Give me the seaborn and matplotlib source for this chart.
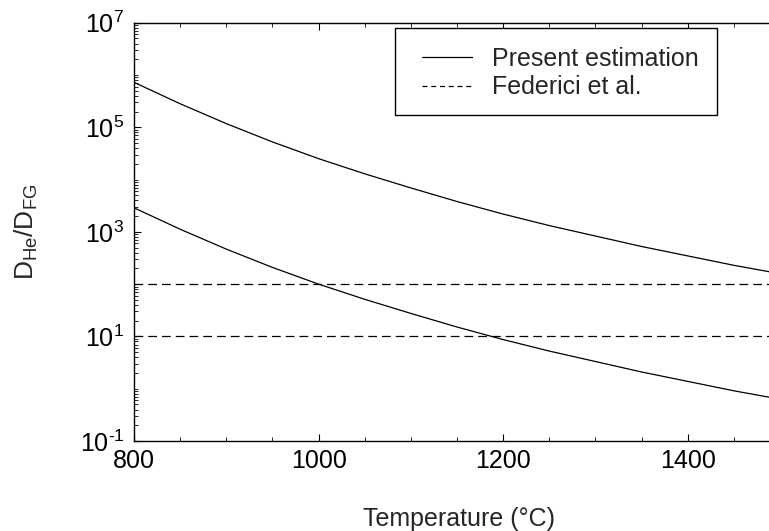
import numpy as np
import pandas as pd
import matplotlib
matplotlib.use("Agg")
import matplotlib.pyplot as plt
import seaborn as sns
from matplotlib.lines import Line2D
from matplotlib.patches import Rectangle
from matplotlib.ticker import FixedLocator, FuncFormatter, MultipleLocator, NullFormatter

# ---- data ----
temperature = [800, 850, 900, 950, 1000, 1050, 1100, 1150, 1200, 1250, 1300, 1350, 1400, 1450, 1500]
present_upper_log = [5.86, 5.45, 5.07, 4.72, 4.40, 4.11, 3.84, 3.58, 3.34, 3.12, 2.92, 2.72, 2.54, 2.36, 2.20]
present_lower_log = [3.46, 3.05, 2.67, 2.32, 2.00, 1.71, 1.44, 1.18, 0.94, 0.72, 0.52, 0.32, 0.14, -0.04, -0.20]
federici_values = [100, 10]
y_major_ticks = [1e-1, 1e1, 1e3, 1e5, 1e7]
x_major_ticks = [800, 1000, 1200, 1400]

sns.set_style("ticks")
plt.rcParams["font.family"] = ["Liberation Sans", "DejaVu Sans"]
plt.rcParams["mathtext.fontset"] = "custom"
plt.rcParams["mathtext.rm"] = "Liberation Sans"
plt.rcParams["mathtext.it"] = "Liberation Sans:italic"
plt.rcParams["mathtext.bf"] = "Liberation Sans:bold"
plt.rcParams["axes.unicode_minus"] = False

df = pd.DataFrame({
    "T": temperature * 2,
    "ratio": list(10 ** np.array(present_upper_log)) + list(10 ** np.array(present_lower_log)),
    "curve": ["upper"] * len(temperature) + ["lower"] * len(temperature),
})

fig = plt.figure(figsize=(7.69, 5.31), dpi=100)
ax = fig.add_axes([134 / 769, 90 / 531, 646 / 769, 418.3 / 531])

sns.lineplot(data=df, x="T", y="ratio", units="curve", estimator=None,
             color="black", linewidth=0.9, ax=ax, legend=False)
for v in federici_values:
    ax.axhline(v, color="black", linewidth=0.9, linestyle=(0, (7, 4)))

ax.set_yscale("log")
ax.set_xlim(800, 1500)
ax.set_ylim(1e-1, 1e7)


def pow_fmt(val, pos):
    e = int(round(np.log10(val)))
    s = str(abs(e))
    if e < 0:
        s = r"\text{-}" + s
    return r"$\mathdefault{10^{%s}}$" % s


ax.yaxis.set_major_locator(FixedLocator(y_major_ticks))
ax.yaxis.set_major_formatter(FuncFormatter(pow_fmt))
minor = [m * 10.0 ** e for e in range(-1, 7) for m in range(1, 10) if not (m == 1 and (e % 2 == 1 or e == -1))]
ax.yaxis.set_minor_locator(FixedLocator(minor))
ax.yaxis.set_minor_formatter(NullFormatter())
ax.xaxis.set_major_locator(FixedLocator(x_major_ticks))
ax.xaxis.set_minor_locator(MultipleLocator(50))

ax.tick_params(which="both", direction="in", top=True, right=True, colors="black",
               labelsize=18)
ax.tick_params(which="major", length=5, width=0.8)
ax.tick_params(which="minor", length=3, width=0.6)
ax.tick_params(axis="y", pad=7)
ax.tick_params(axis="x", pad=6)

for s in ax.spines.values():
    s.set_color("black")
    s.set_linewidth(1.0)

ax.set_xlabel("Temperature (°C)", fontsize=18)
ax.xaxis.set_label_coords(0.503, -0.158)
ax.set_ylabel(r"D$_{\mathrm{He}}$/D$_{\mathrm{FG}}$", fontsize=19)
ax.yaxis.set_label_coords(-0.145, 0.5)

# legend frame (drawn as a box) and legend entries
x0, x1 = (395 - 134) / 646, (717 - 134) / 646
y0, y1 = (441 - 115) / 418.3, (441 - 28) / 418.3
ax.add_patch(Rectangle((x0, y0), x1 - x0, y1 - y0, transform=ax.transAxes,
                       facecolor="white", edgecolor="black", linewidth=1.0,
                       zorder=4, clip_on=False))
handles = [Line2D([], [], color="black", linewidth=0.9),
           Line2D([], [], color="black", linewidth=0.9, linestyle=(0, (4, 3)))]
leg = ax.legend(handles, ["Present estimation", "Federici et al."],
                loc="upper left", bbox_to_anchor=((422 - 134) / 646, (441 - 47) / 418.3),
                fontsize=18, frameon=False, borderpad=0, labelspacing=0.17,
                handlelength=2.0, handletextpad=0.8, borderaxespad=0)
leg.set_zorder(5)

fig.savefig("out.png", dpi=100)
